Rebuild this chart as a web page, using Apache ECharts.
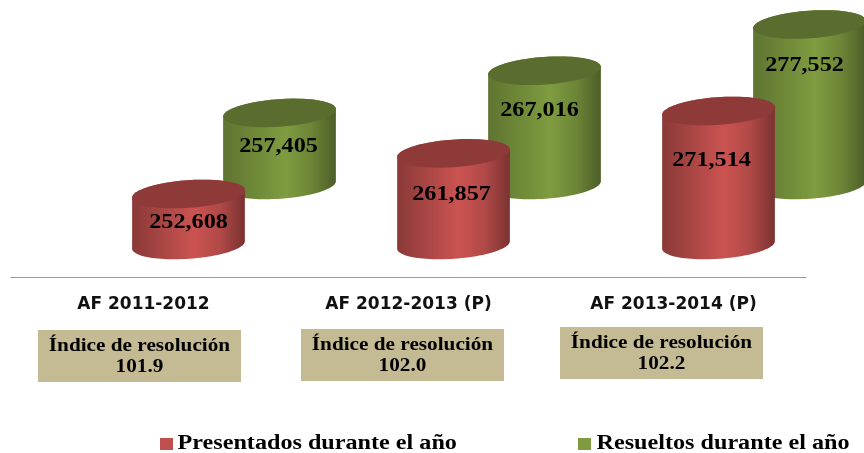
<!DOCTYPE html>
<html><head><meta charset="utf-8">
<style>html,body{margin:0;padding:0;background:#fff}#c{width:864px;height:453px}</style>
<script src="https://cdn.jsdelivr.net/npm/echarts@6/dist/echarts.min.js"></script>
</head><body><div id="c"></div>
<script>
const categories = ['AF 2011-2012','AF 2012-2013 (P)','AF 2013-2014 (P)'];
const presentados = [252608,261857,271514];
const resueltos = [257405,267016,277552];
const indice = ['101.9','102.0','102.2'];
const seriesNames = ['Presentados durante el año','Resueltos durante el año'];
const indexTitle = 'Índice de resolución';

const BASE_VALUE = 241000;
const boxLayout = [[38,330],[301,329],[560,327]];
const legendLayout = [[160,177.5,'#c0504d'],[578,596.5,'#7f9a3f']];
const redStyle = {dx:45, depth:0, cap:'#8d3a39', stops:['#8a3937','#ad4846','#cb5351','#b04947','#7a3231'], labelDx:[0,-2,-7], labelDy:[28,41,49]};
const greenStyle = {dx:136, depth:-60, cap:'#5a6d2f', stops:['#5f7431','#6f8a38','#7f9c40','#6c8537','#4d5e28'], labelDx:[-1,-5,-5], labelDy:[33,40,41]};
const RX = 56.5, RY = 13.8, TILT = 4*Math.PI/180;

function ellipsePts(cx,cy,from,to){
  const pts=[], n=48;
  for(let i=0;i<=n;i++){
    const t=from+(to-from)*i/n;
    pts.push([cx+RX*Math.cos(t)*Math.cos(TILT)+RY*Math.sin(t)*Math.sin(TILT),
              cy-RX*Math.cos(t)*Math.sin(TILT)+RY*Math.sin(t)*Math.cos(TILT)]);
  }
  return pts;
}
function cylinder(st){
  const offs=[0,.3,.55,.78,1];
  return function(params,api){
    const i=api.value(0), v=api.value(1);
    const top=api.coord([i,v]), base=api.coord([i,BASE_VALUE]);
    const cx=top[0]+st.dx, cyT=top[1]+st.depth, cyB=base[1]+st.depth;
    const body=ellipsePts(cx,cyB,0,Math.PI).concat(ellipsePts(cx,cyT,Math.PI,2*Math.PI));
    return {type:'group',children:[
      {type:'polygon',shape:{points:body},style:{fill:new echarts.graphic.LinearGradient(0,0,1,0,
        st.stops.map((c,k)=>({offset:offs[k],color:c})))}},
      {type:'polygon',shape:{points:ellipsePts(cx,cyT,0,2*Math.PI)},style:{fill:st.cap}},
      {type:'text',x:cx+st.labelDx[i],y:cyT+st.labelDy[i],scaleX:1.1,style:{text:v.toLocaleString('en-US'),x:0,y:0,
        align:'center',verticalAlign:'middle',fill:'#000',font:'bold 22px "Liberation Serif"'}}
    ]};
  };
}
const chart=echarts.init(document.getElementById('c'),null,{renderer:'canvas'});
const extras=[];
indice.forEach((val,i)=>{
  const [x,y]=boxLayout[i];
  extras.push({type:'rect',x:x,y:y,shape:{width:203,height:52},style:{fill:'#c4bb95'},silent:true});
  extras.push({type:'text',x:x+101.5,y:y+16,scaleX:1.18,style:{text:indexTitle,x:0,y:0,align:'center',verticalAlign:'middle',
    fill:'#000',font:'bold 18px "Liberation Serif"'},silent:true});
  extras.push({type:'text',x:x+101.5,y:y+37.5,scaleX:1.18,style:{text:val,x:0,y:0,align:'center',verticalAlign:'middle',
    fill:'#000',font:'bold 18px "Liberation Serif"'},silent:true});
});
seriesNames.forEach((n,i)=>{
  const [sx,tx,col]=legendLayout[i];
  extras.push({type:'rect',x:sx,y:438,shape:{width:13,height:12},style:{fill:col},silent:true});
  extras.push({type:'text',x:tx,y:444,scaleX:1.208,style:{text:n,x:0,y:0,align:'left',verticalAlign:'middle',
    fill:'#000',font:'bold 20px "Liberation Serif"'},silent:true});
});
chart.setOption({
  animation:false,
  backgroundColor:'#fff',
  grid:{left:11,top:0,width:795,height:277},
  xAxis:{type:'category',data:categories,axisTick:{show:false},
    axisLine:{lineStyle:{color:'#9a9a9a',width:1}},
    axisLabel:{margin:19,color:'#111',fontFamily:'DejaVu Sans',fontWeight:'bold',fontSize:17}},
  yAxis:{type:'value',min:233700,max:296800,show:false,splitLine:{show:false}},
  tooltip:{show:false},
  series:[
    {type:'custom',name:seriesNames[1],renderItem:cylinder(greenStyle),itemStyle:{color:legendLayout[1][2]},
     encode:{x:0,y:1},data:resueltos.map((v,i)=>[i,v]),clip:false,z:2},
    {type:'custom',name:seriesNames[0],renderItem:cylinder(redStyle),itemStyle:{color:legendLayout[0][2]},
     encode:{x:0,y:1},data:presentados.map((v,i)=>[i,v]),clip:false,z:3}
  ],
  graphic:extras
});
</script></body></html>
